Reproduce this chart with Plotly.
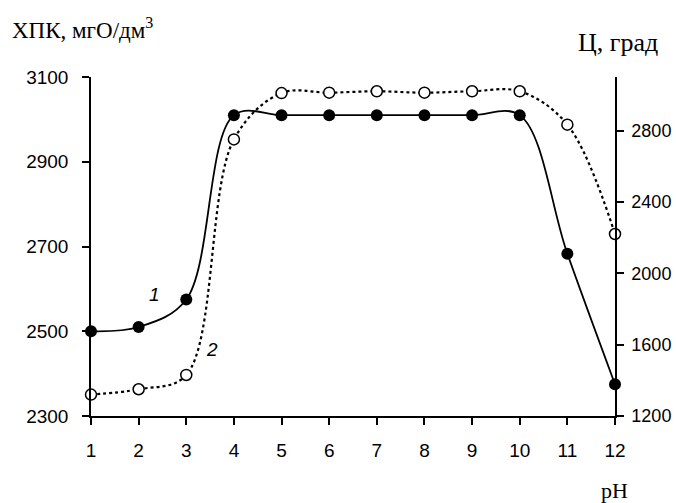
import plotly.graph_objects as go

ph = [1, 2, 3, 4, 5, 6, 7, 8, 9, 10, 11, 12]
cod = [2500, 2510, 2575, 3010, 3010, 3010, 3010, 3010, 3010, 3010, 2683, 2375]
color_deg = [1320, 1350, 1430, 2750, 3010, 3012, 3020, 3012, 3020, 3020, 2833, 2220]

left_ticks = [2300, 2500, 2700, 2900, 3100]
right_ticks = [1200, 1600, 2000, 2400, 2800]

L, R, T, B = 91, 61, 77, 87
W, H = 676, 503
pw, ph_ = W - L - R, H - T - B

def px(x):
    return (x - L) / pw

def py(y):
    return (H - B - y) / ph_

fig = go.Figure()
fig.add_trace(go.Scatter(
    x=ph, y=color_deg, yaxis="y2", mode="lines+markers",
    line=dict(color="black", width=2.2, dash="dot", shape="spline", smoothing=1),
    marker=dict(symbol="circle", size=11, color="white", line=dict(color="black", width=1.5)),
    cliponaxis=False, showlegend=False))
fig.add_trace(go.Scatter(
    x=ph, y=cod, mode="lines+markers",
    line=dict(color="black", width=1.8, shape="spline", smoothing=1),
    marker=dict(symbol="circle", size=12, color="black"),
    cliponaxis=False, showlegend=False))

axis_common = dict(showline=True, linecolor="black", linewidth=1.5, ticks="outside",
                   ticklen=7, tickwidth=1.5, tickcolor="black", showgrid=False, zeroline=False,
                   automargin=False)
tick_font = dict(family="Liberation Sans, Arial", size=19, color="black")

fig.update_layout(
    width=W, height=H, margin=dict(l=L, r=R, t=T, b=B, autoexpand=False),
    paper_bgcolor="white", plot_bgcolor="white",
    xaxis=dict(range=[1, 12], tickvals=ph, ticktext=[str(v) for v in ph],
               ticklabelstandoff=9, tickfont=tick_font, **axis_common),
    yaxis=dict(range=[2300, 3100], tickvals=left_ticks, ticktext=[str(v) for v in left_ticks],
               ticklabelstandoff=10, tickfont=tick_font, **axis_common),
    yaxis2=dict(range=[1200, 3100], tickvals=right_ticks, ticktext=[str(v) for v in right_ticks],
                overlaying="y", side="right", ticklabelstandoff=4,
                tickfont=dict(family="Liberation Sans, Arial", size=18, color="black"),
                **axis_common),
    annotations=[
        dict(text="ХПК, мгО/дм<sup>3</sup>", xref="paper", yref="paper", x=px(10), y=py(28),
             xanchor="left", yanchor="middle", showarrow=False,
             font=dict(family="Liberation Serif, Times New Roman", size=23, color="black")),
        dict(text="Ц, град", xref="paper", yref="paper", x=px(576), y=py(43),
             xanchor="left", yanchor="middle", showarrow=False,
             font=dict(family="Liberation Serif, Times New Roman", size=26, color="black")),
        dict(text="pH", xref="paper", yref="paper", x=px(614), y=py(490),
             xanchor="center", yanchor="middle", showarrow=False,
             font=dict(family="Liberation Serif, Times New Roman", size=22, color="black")),
        dict(text="1", xref="x", yref="y", x=2.34, y=2586, showarrow=False,
             font=dict(family="Liberation Sans, Arial", size=19, color="black", style="italic")),
        dict(text="2", xref="x", yref="y", x=3.53, y=2456, showarrow=False,
             font=dict(family="Liberation Sans, Arial", size=19, color="black", style="italic")),
    ],
)

fig.write_html("out.html")
